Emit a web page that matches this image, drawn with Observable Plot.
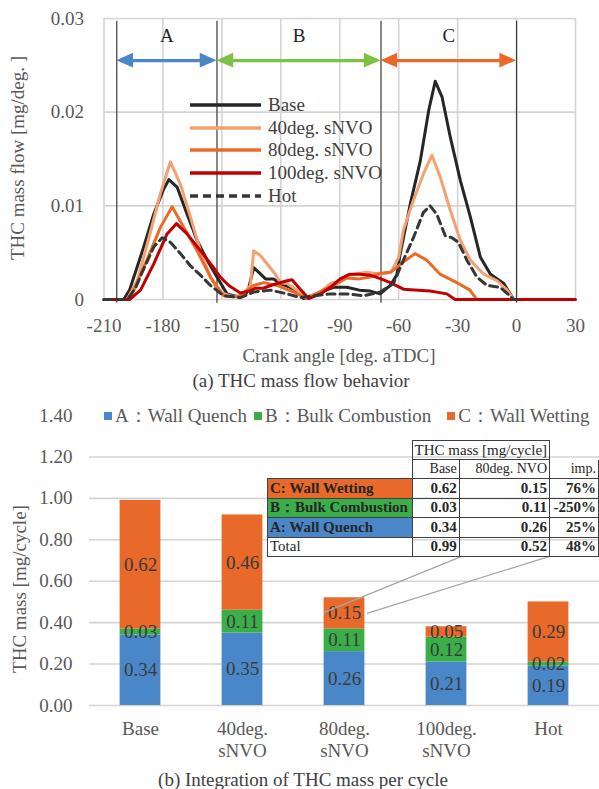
<!DOCTYPE html>
<html><head><meta charset="utf-8">
<script src="https://cdn.jsdelivr.net/npm/d3@7"></script>
<script src="https://cdn.jsdelivr.net/npm/@observablehq/plot@0.6"></script>
<style>
body{margin:0;background:#fff;}
#wrap{position:relative;width:599px;height:789px;overflow:hidden;font-family:"Liberation Serif","Times New Roman",serif;color:#595959;}
.abs{position:absolute;white-space:nowrap;}
#tbl{position:absolute;left:267px;top:440px;border-collapse:collapse;font-family:"Liberation Serif","Times New Roman",serif;font-size:14px;color:#262626;table-layout:fixed;}
#tbl td{padding:0 2px;line-height:1;overflow:hidden;white-space:nowrap;}
#tbl td.b{border:1px solid #404040;}
</style></head><body><div id="wrap"></div>
<script>
const SERIF = '"Liberation Serif","Times New Roman",serif';

// ---------- (a) THC mass flow: [crank angle, mg/deg] ----------
const base = [[-210,0],[-200,0],[-197,0.001],[-194.8,0.0024],[-189.8,0.0056],[-184.7,0.0091],[-179.6,0.0118],[-177,0.0128],[-172.8,0.012],[-167.7,0.0091],[-162.6,0.0063],[-157.5,0.0042],[-152.5,0.0024],[-147.4,0.0006],[-142,0.0003],[-138,0.0005],[-136.4,0.0012],[-133.8,0.0034],[-131.2,0.0029],[-127.8,0.0022],[-123.7,0.0022],[-120.2,0.0017],[-115.2,0.0013],[-111,0.0008],[-108.4,0.0001],[-104,0.0004],[-99.8,0.0008],[-93.2,0.0013],[-86.4,0.0013],[-80,0.001],[-74.5,0.0009],[-69.4,0.0006],[-64.3,0.0015],[-61,0.0026],[-59.2,0.0049],[-54.1,0.0102],[-49,0.0148],[-44.7,0.0202],[-41.4,0.0233],[-37.9,0.0216],[-33.7,0.0173],[-28.6,0.0127],[-23.5,0.0088],[-18.4,0.0045],[-13.3,0.0027],[-6.5,0.0017],[-1.4,0],[0,0]];
const nvo40 = [[-210,0],[-198.2,0],[-193.1,0.002],[-188,0.0059],[-181.3,0.0113],[-176.2,0.0147],[-171.1,0.0123],[-166,0.0088],[-160.9,0.0052],[-155.8,0.0024],[-151.6,0.0008],[-146,0.0004],[-140.6,0.0002],[-135.5,0.0015],[-133.8,0.0052],[-130.4,0.0047],[-126.2,0.0036],[-122.8,0.0027],[-120.2,0.0018],[-116.8,0.0017],[-111.8,0.001],[-107.5,0.0002],[-99.8,0.0008],[-94.8,0.0017],[-89.8,0.002],[-86.4,0.0026],[-76.2,0.0029],[-69.4,0.0027],[-64,0.0029],[-60,0.0045],[-57.6,0.0074],[-52.5,0.0106],[-47.4,0.0134],[-43.1,0.0154],[-38.9,0.0131],[-33.7,0.0095],[-28.6,0.0063],[-23.5,0.0042],[-16.7,0.0027],[-9.9,0.002],[-4.8,0.001],[-1.4,0],[0,0]];
const nvo80 = [[-210,0],[-198.2,0],[-194.8,0.001],[-188,0.0043],[-181.3,0.0077],[-175.3,0.0099],[-169.4,0.0077],[-162.6,0.0052],[-155.8,0.0024],[-149.1,0.0004],[-144,0.0003],[-140.6,0.0004],[-133.8,0.0015],[-128.7,0.0018],[-121.9,0.0015],[-113.5,0.0008],[-106.8,0.0001],[-98.3,0.001],[-91.5,0.0017],[-86.4,0.0023],[-80,0.0022],[-74.5,0.0024],[-69.4,0.0028],[-64.3,0.0029],[-61.8,0.0033],[-57.6,0.004],[-51.7,0.0049],[-45.7,0.0042],[-38.9,0.0027],[-30.4,0.0018],[-23.7,0.001],[-20.3,0],[0,0]];
const nvo100 = [[-210,0],[-197,0],[-191.4,0.001],[-184.7,0.0038],[-177.9,0.007],[-173.1,0.0081],[-167.7,0.007],[-160.9,0.0052],[-154.2,0.0034],[-150.8,0.0024],[-146.5,0.0015],[-140.6,0.0007],[-136,0.0009],[-133,0.0012],[-129,0.0012],[-123.7,0.0016],[-116.8,0.002],[-114.3,0.0021],[-110.1,0.0011],[-105.8,0.0001],[-99.8,0.0006],[-94.8,0.0013],[-89.8,0.0022],[-84.7,0.0027],[-79.6,0.0027],[-74.5,0.0026],[-69,0.0022],[-64.3,0.0018],[-57.6,0.0011],[-50,0.001],[-44,0.0009],[-35.5,0.0006],[-31.3,0],[30,0]];
const hot = [[-210,0],[-198,0],[-194,0.0012],[-191,0.0027],[-184.7,0.0056],[-180.4,0.0066],[-176.2,0.0061],[-171.1,0.0049],[-166,0.0036],[-160.9,0.0026],[-155.8,0.0015],[-149.1,0.0004],[-140.6,0.0002],[-133.8,0.0008],[-125.3,0.001],[-116.8,0.0006],[-110,0.0002],[-103.3,0.0004],[-94.8,0.0006],[-86.4,0.0006],[-78,0.0004],[-69.4,0.0008],[-62.7,0.0017],[-57.6,0.0042],[-52.5,0.0066],[-47.4,0.0093],[-44,0.01],[-40.6,0.0091],[-36.3,0.0068],[-32.9,0.0066],[-29.6,0.0061],[-25.3,0.0042],[-20.2,0.0024],[-15.1,0.0015],[-8.3,0.0013],[-1.4,0],[0,0]];

const seriesNames = ["Base","40deg. sNVO","80deg. sNVO","100deg. sNVO","Hot"];
const seriesData = [base, nvo40, nvo80, nvo100, hot];
const seriesColors = ["#262626","#f5a070","#ec6a28","#c00000","#363636"];
const seriesDash = [null,null,null,null,"8,5"];

const xTicks = [-210,-180,-150,-120,-90,-60,-30,0,30];
const yTicks = [0,0.01,0.02,0.03];

const regionLabels = ["A","B","C"];
const regionFrom = [-203.5,-152.5,-69];
const regionTo = [-152.5,-69,0];
const regionColors = ["#4a86c8","#7cc242","#e8692a"];
const regionBounds = [-203.5,-152.5,-69,0];
const arrowLevel = 0.0255, labelLevel = 0.0281;
const headLen = 8.5, headHalf = 0.00078;

// ---------- (b) integrated THC mass ----------
const categories = ["Base","40deg.\nsNVO","80deg.\nsNVO","100deg.\nsNVO","Hot"];
const wallQuench = [0.34,0.35,0.26,0.21,0.19];
const bulkCombustion = [0.03,0.11,0.11,0.12,0.02];
const wallWetting = [0.62,0.46,0.15,0.05,0.29];
const partNames = ["A：Wall Quench","B：Bulk Combustion","C：Wall Wetting"];
const partColors = ["#4a87c9","#3aae49","#e8692a"];
const massTicks = [0,0.2,0.4,0.6,0.8,1.0,1.2,1.4];
const gridTicks = [0,0.2,0.4,0.6,0.8,1.0,1.2];

// summary table
const tableLabels = ["C: Wall Wetting","B：Bulk Combustion","A: Wall Quench","Total"];
const tableFills = ["#e8692a","#3aae49","#4a87c9","#ffffff"];
const tableBase = [0.62,0.03,0.34,0.99];
const table80 = [0.15,0.11,0.26,0.52];
const tableImp = ["76%","-250%","25%","48%"];
// leader lines (annotation, in bar-chart data space)
const leaderX1 = [3.15,4.01], leaderY1 = [0.72,0.72];
const leaderX2 = [1.80,2.22], leaderY2 = [0.45,0.445];

const wrap = document.getElementById("wrap");
function addText(txt, css){const d=document.createElement("div");d.className="abs";d.textContent=txt;d.style.cssText=css;wrap.appendChild(d);return d;}

// ---------- top plot ----------
const regions = regionLabels.map((l,i)=>({label:l,from:regionFrom[i],to:regionTo[i],color:regionColors[i],mid:(regionFrom[i]+regionTo[i])/2}));
// filled arrowheads (triangles) at both ends of each region
const heads = regions.flatMap((r,i) => [
  {key:`${i}L`, color:r.color, x:r.from, y1:arrowLevel, y2:arrowLevel},
  {key:`${i}L`, color:r.color, x:r.from+headLen, y1:arrowLevel-headHalf, y2:arrowLevel+headHalf},
  {key:`${i}R`, color:r.color, x:r.to-headLen, y1:arrowLevel-headHalf, y2:arrowLevel+headHalf},
  {key:`${i}R`, color:r.color, x:r.to, y1:arrowLevel, y2:arrowLevel}
]);
const topPlot = Plot.plot({
  width: 599, height: 345,
  marginLeft: 103.5, marginRight: 24, marginTop: 18, marginBottom: 46,
  style: {fontFamily: SERIF, fontSize: "19px", color: "#595959", background: "transparent", overflow: "visible"},
  x: {domain: [-210,30], ticks: xTicks, tickSize: 0, tickPadding: 19, label: null, tickFormat: d => String(d)},
  y: {domain: [0,0.03], ticks: yTicks, tickSize: 0, tickPadding: 20, label: null, tickFormat: d => d === 0 ? "0" : d3.format(".2f")(d)},
  marks: [
    Plot.ruleX(xTicks, {stroke: "#d4d4d4", strokeWidth: 1.6}),
    Plot.ruleY(yTicks, {stroke: "#d4d4d4", strokeWidth: 1.6}),
    Plot.ruleX(regionBounds, {y1: -0.0004, y2: 0.0297, stroke: "#3a3a3a", strokeWidth: 1.2}),
    Plot.ruleY(regions, {x1: d => d.from + 2, x2: d => d.to - 2, y: () => arrowLevel, stroke: "color", strokeWidth: 3.2}),
    Plot.areaY(heads, {x: "x", y1: "y1", y2: "y2", z: "key", fill: "color", curve: "linear"}),
    Plot.text(regions, {x: "mid", y: () => labelLevel, text: "label", fill: "#262626", fontSize: 19, fontFamily: SERIF}),
    ...seriesData.map((s,i) => Plot.line(s, {x: d => d[0], y: d => d[1], stroke: seriesColors[i], strokeWidth: 3, strokeDasharray: seriesDash[i], strokeLinejoin: "round"}))
  ]
});
topPlot.style.position = "absolute"; topPlot.style.left = "0px"; topPlot.style.top = "0px";
wrap.appendChild(topPlot);

// top legend
const leg = document.createElement("div");
leg.className = "abs"; leg.style.cssText = "left:190px;top:94px;font-size:19px;color:#404040;";
seriesNames.forEach((n,i) => {
  const row = document.createElement("div");
  row.style.cssText = "height:22.6px;display:flex;align-items:center;";
  row.innerHTML = `<svg width="72" height="6" style="overflow:visible"><line x1="0" x2="71" y1="3" y2="3" stroke="${seriesColors[i]}" stroke-width="3.5" ${seriesDash[i] ? `stroke-dasharray="${seriesDash[i]}"` : ""}/></svg><span style="margin-left:6px">${n}</span>`;
  leg.appendChild(row);
});
wrap.appendChild(leg);

addText("THC mass flow [mg/deg. ]", "left:18px;top:158px;font-size:19px;transform:translate(-50%,-50%) rotate(-90deg);");
addText("Crank angle [deg. aTDC]", "left:339px;top:356px;font-size:19px;transform:translate(-50%,-50%);");
addText("(a) THC mass flow behavior", "left:301px;top:381px;font-size:19px;color:#404040;transform:translate(-50%,-50%);");

// ---------- bottom plot ----------
const parts = [wallQuench, bulkCombustion, wallWetting];
const stackRows = categories.flatMap((c,i) => {
  let acc = 0;
  return parts.map((p,k) => { const r = {i, part: partNames[k], color: partColors[k], v: p[i], y1: acc, y2: acc + p[i]}; acc += p[i]; return r; });
});
const catRows = categories.map((c,i) => ({i, label: c}));
const leaders = leaderX1.map((x,i) => ({x1: x, y1: leaderY1[i], x2: leaderX2[i], y2: leaderY2[i]}));

const botPlot = Plot.plot({
  width: 599, height: 370,
  marginLeft: 89, marginRight: 0, marginTop: 15, marginBottom: 65,
  style: {fontFamily: SERIF, fontSize: "19px", color: "#595959", background: "transparent", overflow: "visible"},
  x: {domain: [-0.5,4.5], axis: null},
  y: {domain: [0,1.4], ticks: massTicks, tickSize: 0, tickPadding: 17, label: null, tickFormat: d3.format(".2f")},
  marks: [
    Plot.ruleY(gridTicks, {stroke: "#d4d4d4", strokeWidth: 1.6}),
    Plot.rectY(stackRows, {x1: d => d.i - 0.2, x2: d => d.i + 0.2, y1: "y1", y2: "y2", fill: "color"}),
    Plot.text(stackRows, {x: "i", y: d => (d.y1 + d.y2) / 2, text: d => d.v.toFixed(2), fill: "#3a3a3a", fontSize: 19, fontFamily: SERIF}),
    Plot.text(catRows, {x: "i", y: () => 0, text: "label", fill: "#595959", fontSize: 19, fontFamily: SERIF, lineAnchor: "top", dy: 14, lineHeight: 1.15}),
    Plot.link(leaders, {x1: "x1", y1: "y1", x2: "x2", y2: "y2", stroke: "#a6a6a6", strokeWidth: 1.3})
  ]
});
botPlot.style.position = "absolute"; botPlot.style.left = "0px"; botPlot.style.top = "400px";
wrap.appendChild(botPlot);

// bottom legend
const leg2 = document.createElement("div");
leg2.className = "abs"; leg2.style.cssText = "left:104px;top:405px;height:22px;display:flex;align-items:center;font-size:19px;color:#595959;background:#fff;";
partNames.forEach((n,k) => {
  const it = document.createElement("span");
  it.style.cssText = `display:flex;align-items:center;margin-right:${k===1?16:7}px;`;
  it.innerHTML = `<span style="display:inline-block;width:8px;height:8px;background:${partColors[k]};margin-right:3px"></span>${n}`;
  leg2.appendChild(it);
});
wrap.appendChild(leg2);

addText("THC mass [mg/cycle]", "left:20px;top:589px;font-size:19px;transform:translate(-50%,-50%) rotate(-90deg);");
addText("(b) Integration of THC mass per cycle", "left:303px;top:780px;font-size:19px;color:#404040;transform:translate(-50%,-50%);");

// table
const tbl = document.createElement("table");
tbl.id = "tbl";
const colW = [147,46,88,51];
let html = "<colgroup>" + colW.map(w => `<col style="width:${w}px">`).join("") + "</colgroup>";
html += `<tr style="height:19px"><td></td><td class="b" colspan="2" style="text-align:center;font-size:15px">THC mass [mg/cycle]</td><td></td></tr>`;
html += `<tr style="height:19px"><td style="border-bottom:1px solid #404040"></td><td class="b" style="text-align:right">Base</td><td class="b" style="text-align:right">80deg. NVO</td><td style="text-align:right;border-bottom:1px solid #404040;border-right:1px solid #404040">imp.</td></tr>`;
tableLabels.forEach((l,i) => {
  html += `<tr style="height:19.5px"><td class="b" style="background:${tableFills[i]};font-weight:${i<3?"bold":"normal"};font-size:15px">${l}</td><td class="b" style="text-align:right;font-weight:bold;font-size:15px">${tableBase[i].toFixed(2)}</td><td class="b" style="text-align:right;font-weight:bold;font-size:15px">${table80[i].toFixed(2)}</td><td class="b" style="text-align:right;font-weight:bold;font-size:15px">${tableImp[i]}</td></tr>`;
});
tbl.innerHTML = html;
wrap.appendChild(tbl);
</script></body></html>
